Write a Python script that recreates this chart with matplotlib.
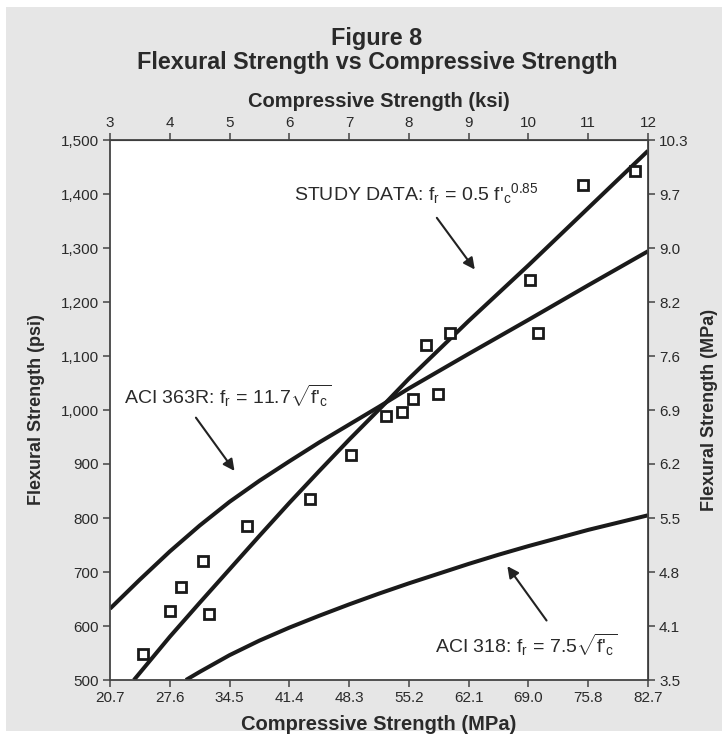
import matplotlib
matplotlib.use('Agg')
import matplotlib.pyplot as plt
from matplotlib.patches import Rectangle

plt.rcParams['font.family'] = ['Liberation Sans', 'DejaVu Sans']
plt.rcParams['mathtext.fontset'] = 'custom'
plt.rcParams['mathtext.rm'] = 'Liberation Sans'
plt.rcParams['mathtext.it'] = 'Liberation Sans'
plt.rcParams['mathtext.bf'] = 'Liberation Sans:bold'

# measured beams: compressive strength (ksi), flexural strength (psi)
fc_ksi = [3.56, 4.00, 4.19, 4.56, 4.66, 5.30, 6.35, 7.03, 7.61, 7.89,
          8.07, 8.48, 8.29, 8.68, 10.16, 10.03, 10.91, 11.79]
fr_psi = [548, 628, 673, 720, 622, 786, 836, 917, 989, 997,
          1021, 1030, 1120, 1142, 1142, 1241, 1417, 1442]

# curves (ksi, psi)
study_ksi = [3.40, 4.0, 4.5, 5.0, 5.5, 6.0, 6.5, 7.0, 7.6, 8.0, 9.0, 10.0, 11.0, 12.0]
study_psi = [500, 580, 643, 705, 767, 828, 887, 945, 1012, 1058, 1165, 1268, 1374, 1480]
aci363_ksi = [3.0, 3.5, 4.0, 4.5, 5.0, 5.5, 6.0, 6.5, 7.0, 7.5, 8.0, 9.0, 10.0, 11.0, 12.0]
aci363_psi = [632, 686, 738, 786, 830, 869, 905, 940, 973, 1006, 1040, 1104, 1167, 1231, 1294]
aci318_ksi = [4.27, 4.5, 5.0, 5.5, 6.0, 6.5, 7.0, 7.5, 8.0, 8.5, 9.0, 9.5, 10.0, 11.0, 12.0]
aci318_psi = [500, 515, 546, 573, 597, 619, 640, 660, 679, 697, 715, 732, 748, 778, 805]

ksi_ticks = [3, 4, 5, 6, 7, 8, 9, 10, 11, 12]
mpa_x_labels = ['20.7', '27.6', '34.5', '41.4', '48.3', '55.2', '62.1', '69.0', '75.8', '82.7']
psi_ticks = [500, 600, 700, 800, 900, 1000, 1100, 1200, 1300, 1400, 1500]
psi_labels = ['500', '600', '700', '800', '900', '1,000', '1,100', '1,200', '1,300', '1,400', '1,500']
mpa_y_labels = ['3.5', '4.1', '4.8', '5.5', '6.2', '6.9', '7.6', '8.2', '9.0', '9.7', '10.3']

txt = '#2a2a2a'
fig = plt.figure(figsize=(7.28, 7.38), dpi=100, facecolor='white')
fig.patches.append(Rectangle((0.0082, 0.0095), 0.9835, 0.981, transform=fig.transFigure,
                             facecolor='#e6e6e6', edgecolor='none', zorder=-10))

ax = fig.add_axes([110 / 728, 1 - 680 / 738, 538 / 728, 540 / 738])
ax.set_facecolor('white')

lw = 2.9
ax.plot(study_ksi, study_psi, color='#1a1a1a', lw=lw, solid_capstyle='butt')
ax.plot(aci363_ksi, aci363_psi, color='#1a1a1a', lw=lw, solid_capstyle='butt')
ax.plot(aci318_ksi, aci318_psi, color='#1a1a1a', lw=lw, solid_capstyle='butt')
ax.plot(fc_ksi, fr_psi, 's', ms=7, mfc='white', mec='#1a1a1a', mew=2.0, zorder=5)

ax.set_xlim(3, 12)
ax.set_ylim(500, 1500)
ax.set_xticks(ksi_ticks)
ax.set_xticklabels(mpa_x_labels)
ax.set_yticks(psi_ticks)
ax.set_yticklabels(psi_labels)

for s in ax.spines.values():
    s.set_color('#444444')
    s.set_linewidth(1.3)
tick_kw = dict(direction='out', length=5, width=1.1, color='#444444',
               labelsize=11, labelcolor=txt)
ax.tick_params(pad=3, **tick_kw)

top = ax.secondary_xaxis('top')
top.set_xticks(ksi_ticks)
top.set_xticklabels([str(k) for k in ksi_ticks])
top.tick_params(pad=2, **tick_kw)
top.set_xlabel('Compressive Strength (ksi)', fontsize=14.5, fontweight='bold',
               color=txt, labelpad=7)

right = ax.secondary_yaxis('right')
right.set_yticks(psi_ticks)
right.set_yticklabels(mpa_y_labels)
right.tick_params(pad=3, **tick_kw)
right.set_ylabel('Flexural Strength (MPa)', fontsize=13, fontweight='bold',
                 color=txt, labelpad=9)

ax.set_xlabel('Compressive Strength (MPa)', fontsize=14.5, fontweight='bold',
              color=txt, labelpad=7)
ax.set_ylabel('Flexural Strength (psi)', fontsize=13, fontweight='bold',
              color=txt, labelpad=11)

fig.text(0.518, 1 - 39 / 738, 'Figure 8', ha='center', va='center',
         fontsize=16.8, fontweight='bold', color=txt)
fig.text(0.518, 1 - 63 / 738, 'Flexural Strength vs Compressive Strength', ha='center',
         va='center', fontsize=16.8, fontweight='bold', color=txt)

fs = 14
arrow = dict(arrowstyle='-|>', color='#222222', lw=1.5, mutation_scale=17)
ax.text(6.08, 1388, r"STUDY DATA: f$_r$ = 0.5 f'$_c{}^{0.85}$",
        fontsize=fs, color=txt, ha='left', va='baseline')
ax.annotate('', xy=(9.13, 1256), xytext=(8.44, 1360), arrowprops=arrow)

ax.text(3.23, 1012, r"ACI 363R: f$_r$ = 11.7$\sqrt{\mathrm{f}\text{'}_c}$",
        fontsize=fs, color=txt, ha='left', va='baseline')
ax.annotate('', xy=(5.11, 883), xytext=(4.41, 990), arrowprops=arrow)

ax.text(8.44, 551, r"ACI 318: f$_r$ = 7.5$\sqrt{\mathrm{f}\text{'}_c}$",
        fontsize=fs, color=txt, ha='left', va='baseline')
ax.annotate('', xy=(9.62, 715), xytext=(10.33, 606), arrowprops=arrow)

fig.savefig('out.png', dpi=100, facecolor='white')
